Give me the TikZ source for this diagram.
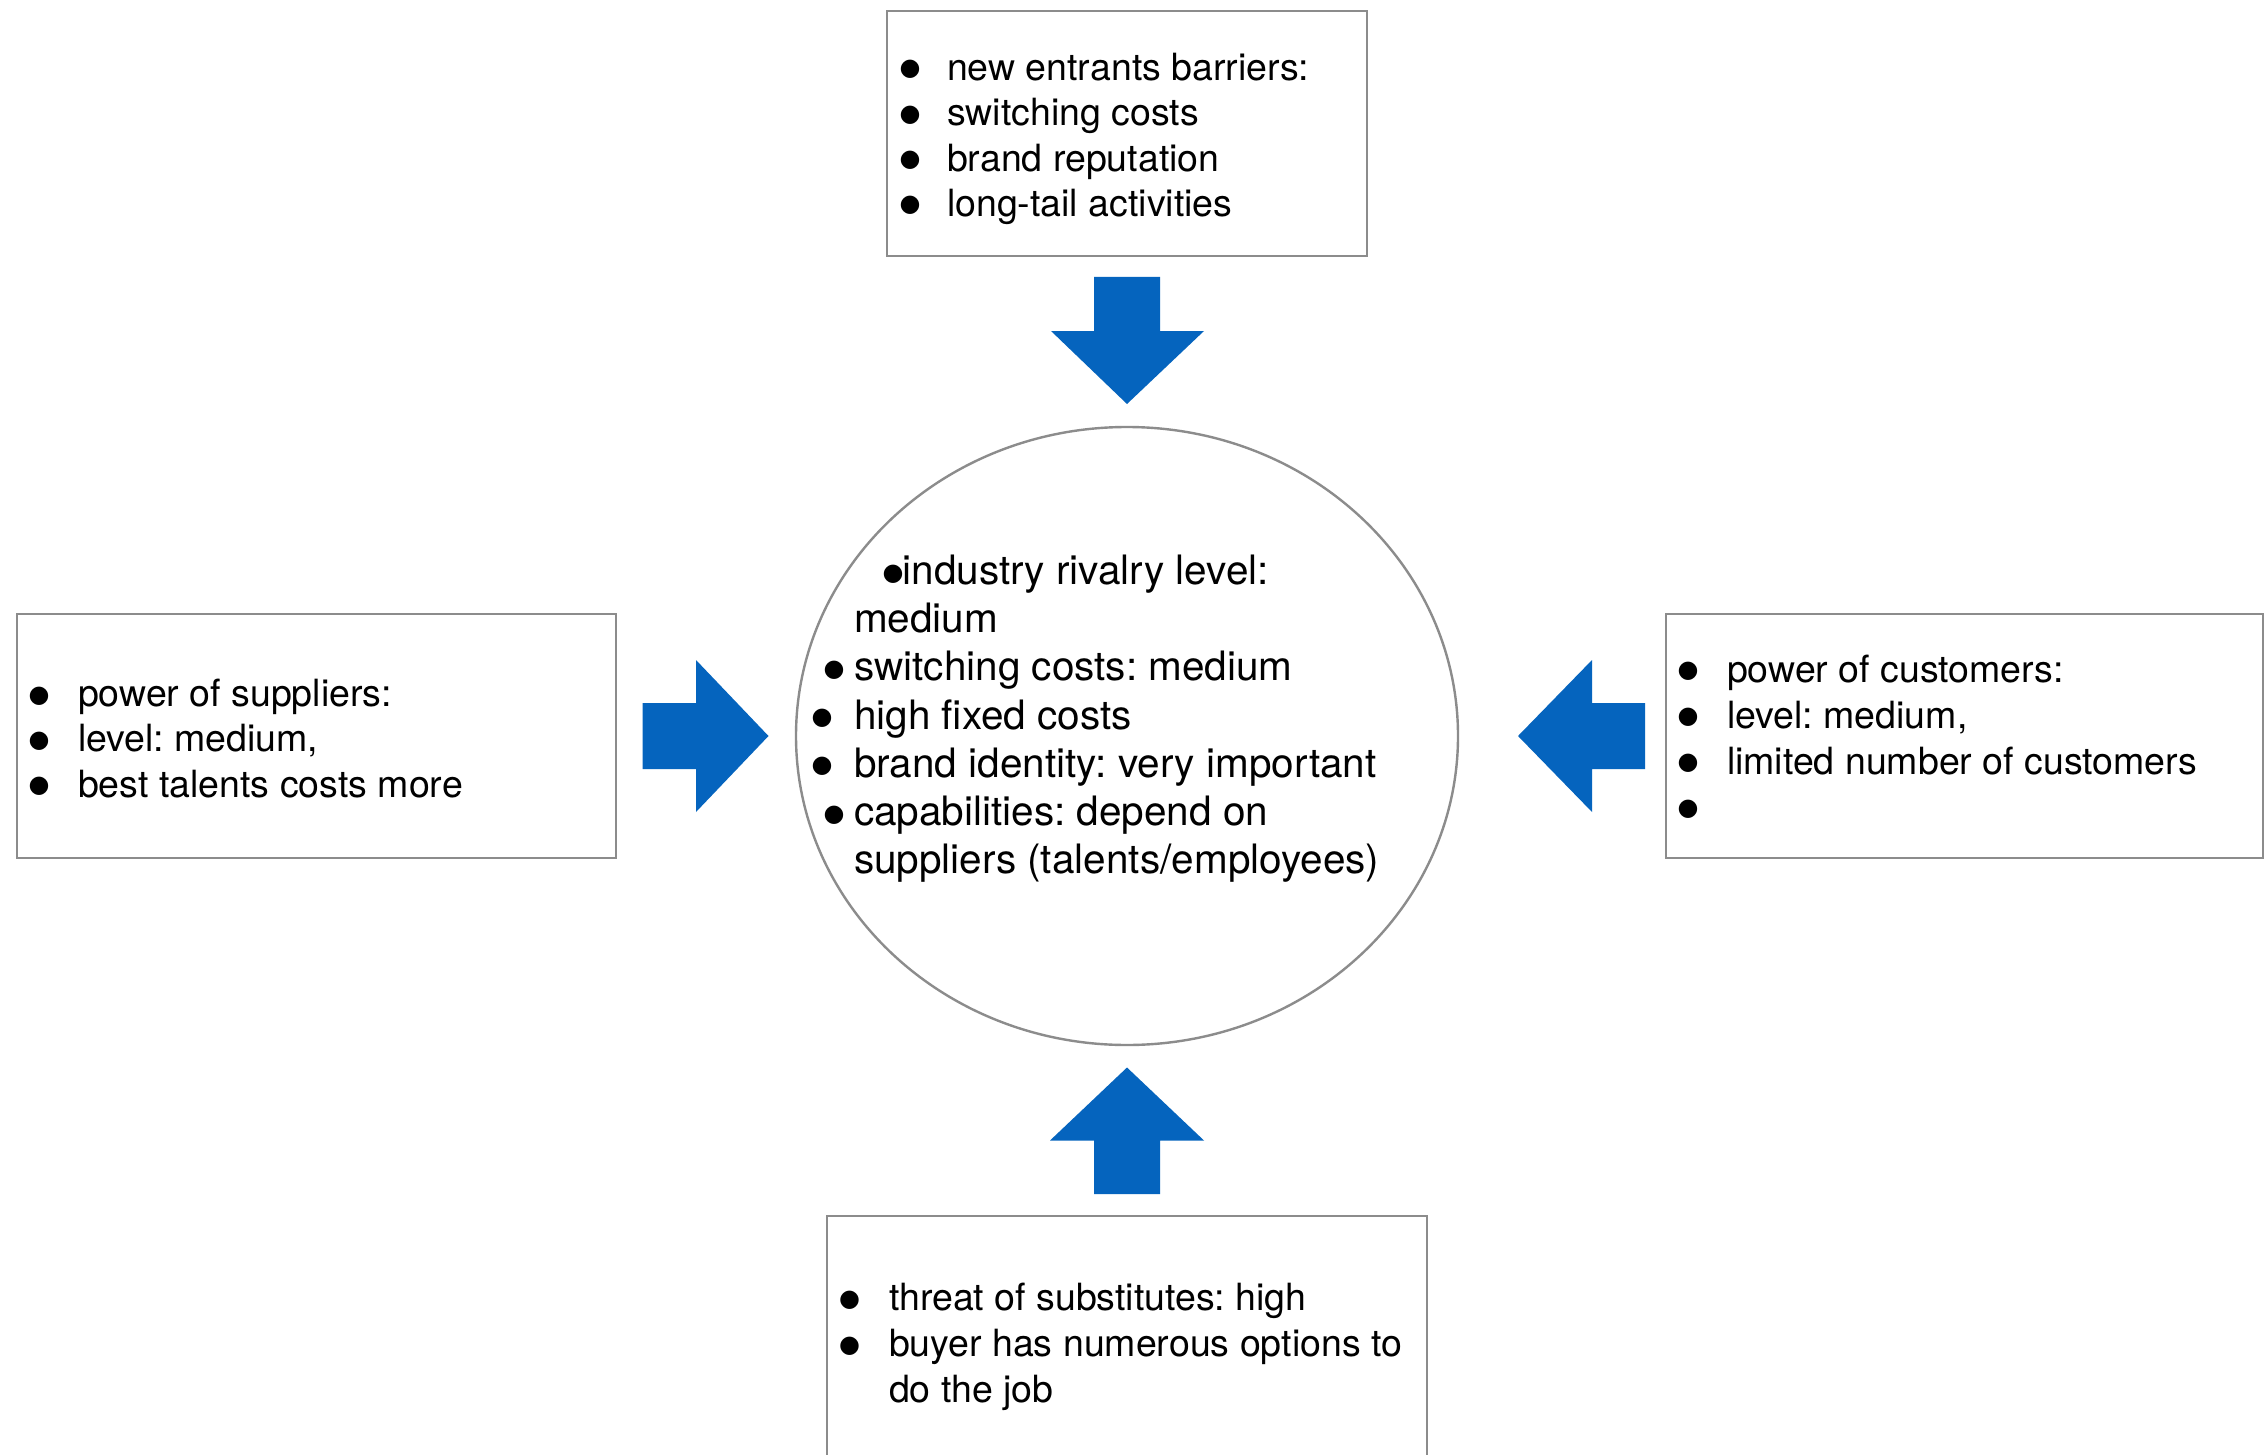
\documentclass[tikz,border=0pt]{standalone}
\usepackage{fontspec}
\setmainfont{TeX Gyre Heros}
\newfontfamily\symfont{DejaVu Sans}
\usetikzlibrary{shapes.geometric}
\definecolor{forceblue}{RGB}{5,100,190}
\definecolor{framegray}{RGB}{140,140,140}
% round list bullet
\newcommand\bigbullet{\raisebox{4.5pt}{\fontsize{24}{24}\symfont ●}}
% bullet centred #1/2 pt to the left of the current point
\newcommand\bl[1]{\llap{\makebox[#1pt][c]{\bigbullet}}}
\begin{document}
\frenchspacing
\begin{tikzpicture}[x=1pt,y=-1pt,
  frame/.style={draw=framegray, line width=2.6pt, rectangle, inner sep=0pt, outer sep=0pt},
  blockarrow/.style={fill=forceblue, draw=none},
  listtext/.style={anchor=base west, inner sep=0pt, outer sep=0pt, text=black},
  boxfont/.style={font=\frenchspacing\fontsize{37.5}{45.3}\selectfont},
  widefont/.style={font=\frenchspacing\fontsize{37.5}{46}\selectfont},
  circlefont/.style={font=\frenchspacing\fontsize{40.5}{48.2}\selectfont}]
\useasboundingbox (0,0) rectangle (2264,1455);
\clip (0,0) rectangle (2264,1455);
\fill[white] (0,0) rectangle (2264,1455);

% the five forces: four boxes round the central ellipse
\node[frame, minimum width=480pt, minimum height=245pt] (entrants) at (1127,133.5) {};
\node[frame, minimum width=599pt, minimum height=244pt] (suppliers) at (316.5,736) {};
\node[frame, minimum width=597pt, minimum height=244pt] (customers) at (1964.5,736) {};
\node[frame, minimum width=600pt, minimum height=264pt] (substitutes) at (1127,1348) {};
\node[draw=framegray, line width=2.4pt, ellipse, minimum width=662pt, minimum height=618pt,
      inner sep=0pt] (rivalry) at (1127,736) {};

% block arrows pointing at the centre
\fill[blockarrow] (1094,277) -- (1160,277) -- (1160,331) -- (1204,331) -- (1127,404)
  -- (1051,331) -- (1094,331) -- cycle;
\fill[blockarrow] (1094,1194) -- (1160,1194) -- (1160,1140.5) -- (1204,1140.5) -- (1127,1067.5)
  -- (1050,1140.5) -- (1094,1140.5) -- cycle;
\fill[blockarrow] (642.5,703) -- (696,703) -- (696,660) -- (768.5,736) -- (696,812)
  -- (696,769) -- (642.5,769) -- cycle;
\fill[blockarrow] (1645,703) -- (1592,703) -- (1592,660) -- (1518,736) -- (1592,812)
  -- (1592,769) -- (1645,769) -- cycle;

% texts
\node[listtext, boxfont] (entrantsText) at (947,80.5) {\begin{tabular}[t]{@{}l@{}}
  \bl{74}new entrants barriers:\\
  \bl{74}switching costs\\
  \bl{74}brand reputation\\
  \bl{74}long-tail activities
\end{tabular}};

\node[listtext, boxfont] (suppliersText) at (78,706.5) {\begin{tabular}[t]{@{}l@{}}
  \bl{78}power of suppliers:\\
  \bl{78}level: medium,\\
  \bl{78}best talents costs more
\end{tabular}};

\node[listtext, widefont] (customersText) at (1727,682) {\begin{tabular}[t]{@{}l@{}}
  \bl{78}power of customers:\\
  \bl{78}level: medium,\\
  \bl{78}limited number of customers\\
  \bl{78}
\end{tabular}};

\node[listtext, widefont] (substitutesText) at (889,1310.5) {\begin{tabular}[t]{@{}l@{}}
  \bl{79}threat of substitutes: high\\
  \bl{79}buyer has numerous options to\\
  do the job
\end{tabular}};

\node[listtext, circlefont] (rivalryText) at (854,584.5) {\begin{tabular}[t]{@{}l@{}}
  \hspace{48.5pt}\bl{19}industry rivalry level:\\
  medium\\
  \bl{40}switching costs: medium\\
  \bl{64}high fixed costs\\
  \bl{64}brand identity: very important\\
  \bl{40}capabilities: depend on\\
  suppliers (talents/employees)
\end{tabular}};
\end{tikzpicture}
\end{document}
